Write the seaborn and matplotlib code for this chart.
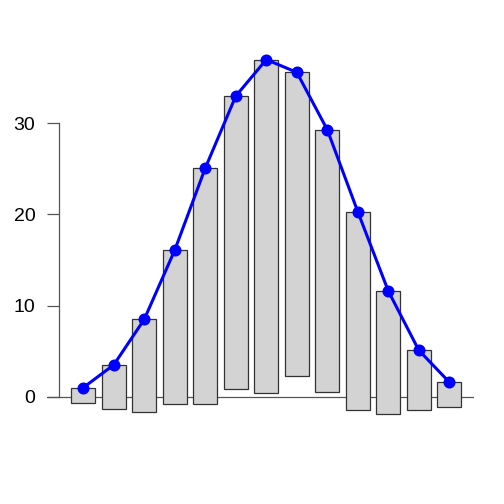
import numpy as np
import pandas as pd
import matplotlib
matplotlib.use("Agg")
import matplotlib.pyplot as plt
import seaborn as sns

categories = [str(i) for i in range(13)]
expected = [1.0, 3.5, 8.5, 16.1, 25.1, 33.0, 37.0, 35.6, 29.3, 20.3, 11.6, 5.1, 1.6]
observed = [1.7, 4.9, 10.2, 16.9, 25.9, 32.1, 36.6, 33.3, 28.8, 21.8, 13.5, 6.6, 2.7]
yticks = [0, 10, 20, 30]

sns.set_style("white")
plt.rcParams["font.family"] = ["Liberation Sans", "DejaVu Sans"]

df = pd.DataFrame({"cat": categories, "obs": observed, "exp": expected})
bottoms = (df["exp"] - df["obs"]).to_numpy()

fig = plt.figure(figsize=(5.04, 5.04), dpi=100)
ax = fig.add_axes([47/504, 64/504, 427/504, 400/504])

sns.barplot(data=df, x="cat", y="obs", bottom=bottoms, width=0.8,
            color="#d3d3d3", saturation=1, edgecolor="#333333", linewidth=0.9, ax=ax)
sns.pointplot(data=df, x="cat", y="exp", color="blue", markers="o",
              markersize=7, linewidth=2.2, ax=ax)

ax.axhline(0, color="#555555", linewidth=0.9, zorder=0.5)

ax.set_xlim(-1.19, 12.81)
ax.set_ylim(-4.75, 39.15)
for s in ["top", "right", "bottom"]:
    ax.spines[s].set_visible(False)
ax.spines["left"].set_position(("axes", 0.0288))
ax.spines["left"].set_bounds(0, 30)
ax.spines["left"].set_color("#555555")
ax.spines["left"].set_linewidth(0.9)
ax.set_xticks([])
ax.set_yticks(yticks)
ax.tick_params(axis="y", length=8.6, width=0.9, color="#555555", pad=8.6,
               labelsize=14, labelcolor="black", left=True)
ax.set_xlabel("")
ax.set_ylabel("")

fig.savefig("out.png", dpi=100)
